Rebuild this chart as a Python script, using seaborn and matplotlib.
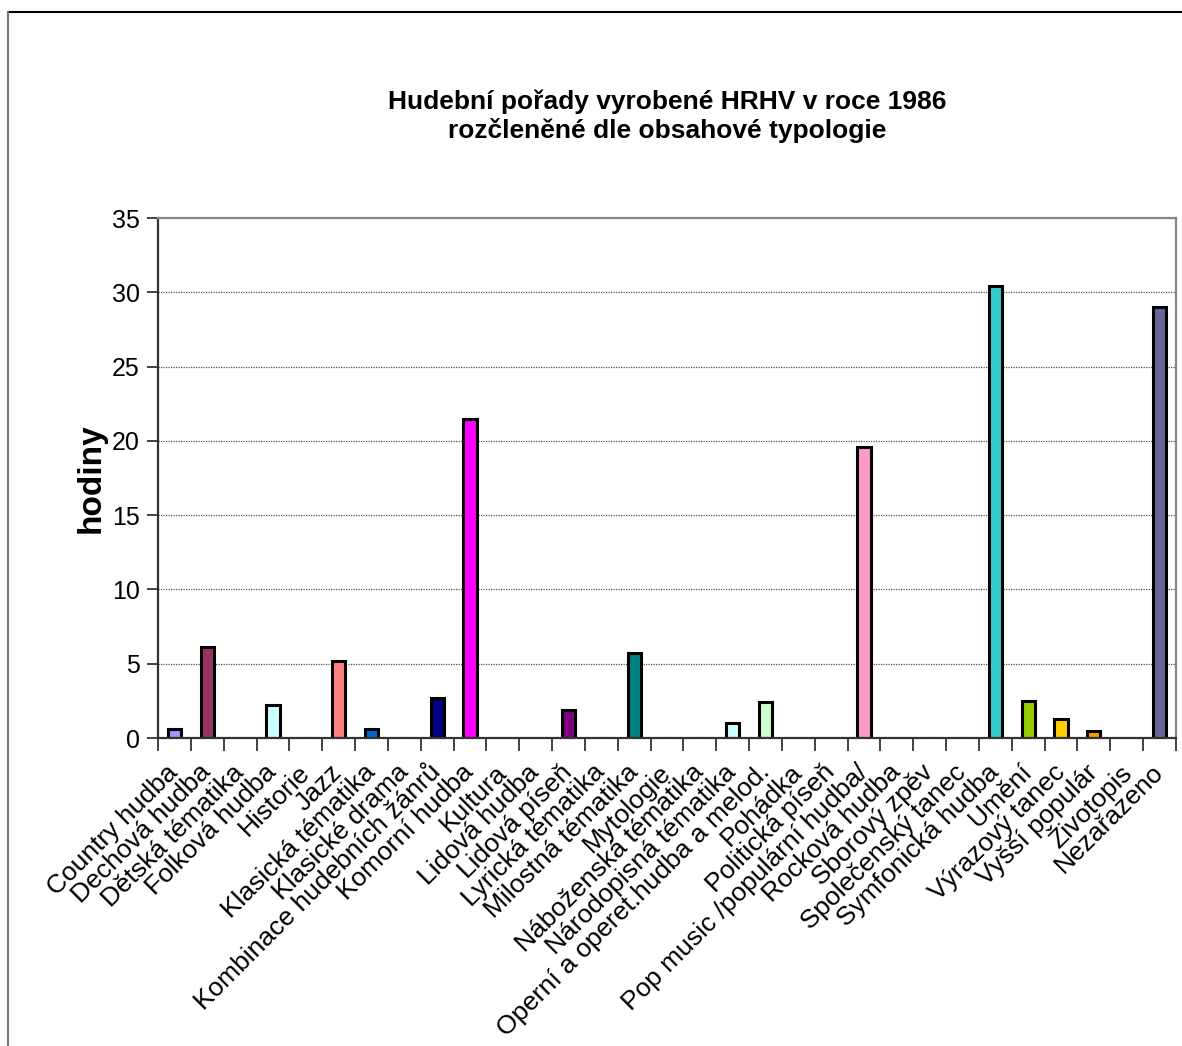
import numpy as np
import pandas as pd
import seaborn as sns
import matplotlib.pyplot as plt
from matplotlib.lines import Line2D

categories = ['Country hudba', 'Dechová hudba', 'Dětská tématika', 'Folková hudba',
              'Historie', 'Jazz', 'Klasická tématika', 'Klasické drama',
              'Kombinace hudebních žánrů', 'Komorní hudba', 'Kultura', 'Lidová hudba',
              'Lidová píseň', 'Lyrická tématika', 'Milostná tématika', 'Mytologie',
              'Náboženská tématika', 'Národopisná tématika', 'Operní a operet.hudba a melod.',
              'Pohádka', 'Politická píseň', 'Pop music /populární hudba/', 'Rocková hudba',
              'Sborový zpěv', 'Společenský tanec', 'Symfonická hudba', 'Umění',
              'Výrazový tanec', 'Vyšší populár', 'Životopis', 'Nezařazeno']
hours = [0.6, 6.1, 0, 2.2, 0, 5.2, 0.6, 0, 2.7, 21.5, 0, 0, 1.9, 0, 5.7, 0,
         0, 1.0, 2.4, 0, 0, 19.6, 0, 0, 0, 30.4, 2.5, 1.3, 0.5, 0, 29.0]
colors = ['#9999FF', '#993366', '#FFFFFF', '#CCFFFF', '#FFFFFF', '#FF8080', '#0066CC',
          '#FFFFFF', '#000080', '#FF00FF', '#FFFFFF', '#FFFFFF', '#800080', '#FFFFFF',
          '#008080', '#FFFFFF', '#FFFFFF', '#CCFFFF', '#CCFFCC', '#FFFFFF', '#FFFFFF',
          '#FF99CC', '#FFFFFF', '#FFFFFF', '#FFFFFF', '#33CCCC', '#99CC00', '#FFCC00',
          '#FF9900', '#FFFFFF', '#666699']

sns.set_style('white')
plt.rcParams['font.family'] = ['Liberation Sans', 'DejaVu Sans']
plt.rcParams['text.color'] = 'black'
plt.rcParams['xtick.color'] = 'black'
plt.rcParams['ytick.color'] = 'black'
plt.rcParams['axes.labelcolor'] = 'black'

df = pd.DataFrame({'kategorie': categories, 'hodiny': hours})

fig = plt.figure(figsize=(11.82, 10.46), dpi=100)
ax = fig.add_axes([158 / 1182, 1 - 738 / 1046, (1176 - 158) / 1182, (738 - 218) / 1046])

sns.barplot(data=df, x='kategorie', y='hodiny', hue='kategorie',
            palette=dict(zip(categories, colors)), legend=False, saturation=1,
            width=0.4, edgecolor='black', linewidth=2.2, ax=ax)

ax.set_xlim(-0.5, len(categories) - 0.5)
ax.set_ylim(0, 35)
ax.set_yticks(np.arange(0, 36, 5))
ax.yaxis.grid(True, color='#555555', linestyle=(0, (1, 1)), linewidth=0.9)
ax.set_axisbelow(True)

# ticks at category boundaries
ax.set_xticks(np.arange(-0.5, len(categories), 1), minor=True)
ax.tick_params(axis='x', which='minor', direction='out', length=9, width=1.3,
               color='#333333', bottom=True)
ax.tick_params(axis='x', which='major', length=0, pad=22, labelsize=19)
ax.tick_params(axis='y', direction='out', length=8, width=1.3, color='#333333',
               left=True, labelsize=18, pad=5)
plt.setp(ax.get_xticklabels(), rotation=45, ha='right', va='center',
         rotation_mode='anchor')

for side in ['left', 'bottom']:
    ax.spines[side].set_color('#333333')
    ax.spines[side].set_linewidth(1.6)
for side in ['top', 'right']:
    ax.spines[side].set_color('#888888')
    ax.spines[side].set_linewidth(1.6)

ax.set_xlabel('')
ax.set_ylabel('hodiny', fontsize=24, fontweight='bold', labelpad=4)

fig.text(667 / 1182, 1 - 116 / 1046,
         'Hudební pořady vyrobené HRHV v roce 1986\nrozčleněné dle obsahové typologie',
         ha='center', va='center', fontsize=19, fontweight='bold', linespacing=1.2)

# outer chart frame (top and left edges only visible)
fig.add_artist(Line2D([8 / 1182, 1], [1 - 12 / 1046, 1 - 12 / 1046],
                      transform=fig.transFigure, color='black', linewidth=1.5))
fig.add_artist(Line2D([8 / 1182, 8 / 1182], [0, 1 - 12 / 1046],
                      transform=fig.transFigure, color='#777777', linewidth=1.5))

plt.savefig('out.png', dpi=100)
